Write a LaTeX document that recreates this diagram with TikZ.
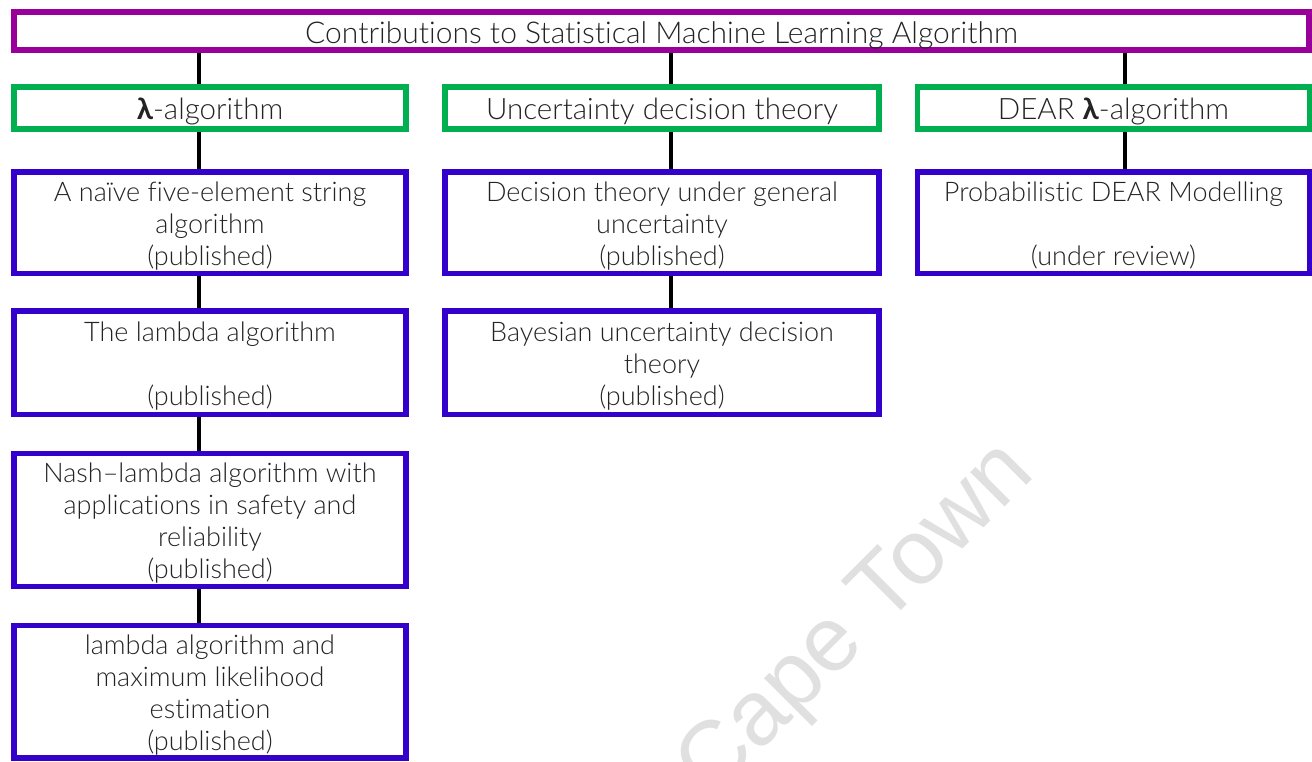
\documentclass[tikz,border=0pt]{standalone}
\usepackage{fontspec}
\setmainfont{Lato}[UprightFont={* Light},BoldFont={* Bold},Ligatures=NoCommon]
\newfontfamily\wmfont{Liberation Sans}
\definecolor{headc}{RGB}{153,0,153}
\definecolor{groupc}{RGB}{0,176,80}
\definecolor{paperc}{RGB}{51,0,204}
\definecolor{txt}{RGB}{35,35,35}
\begin{document}
\begin{tikzpicture}[x=1pt,y=-1pt,
  box/.style={draw, line width=5.5pt, inner sep=0pt},
  head/.style={box, draw=headc},
  group/.style={box, draw=groupc},
  paper/.style={box, draw=paperc},
  titletext/.style={inner sep=0pt, text=txt, align=center, font=\fontsize{30}{32}\selectfont},
  bigtext/.style={inner sep=0pt, text=txt, align=center, font=\fontsize{29.5}{32}\selectfont},
  smalltext/.style={inner sep=0pt, text=txt, align=center, font=\fontsize{27}{32}\selectfont},
  link/.style={line width=4.5pt, black}]
\useasboundingbox (0,0) rectangle (1312,761);

% watermark
\node[anchor=base east, rotate=45, text=black!12, font=\wmfont\fontsize{92}{92}\selectfont, inner sep=0pt] (wm) at (1037,475) {Cape Town};

% column positions of the connectors
\coordinate (cL) at (199,0);
\coordinate (cM) at (671,0);
\coordinate (cR) at (1125,0);

% title
\node[head, minimum width=1295pt, minimum height=38pt] (top) at (661.5,31) {};
\node[titletext] (topt) at ([yshift=-4.5pt]top.center) {Contributions to Statistical Machine Learning Algorithm};

% research lines
\node[group, minimum width=392pt, minimum height=42pt] (g1) at (210,108) {};
\node[group, minimum width=434pt, minimum height=42pt] (g2) at (662,108) {};
\node[group, minimum width=392pt, minimum height=42pt] (g3) at (1113.5,108) {};
\node[bigtext] (g1t) at ([yshift=-3.5pt]g1.center) {\textbf{λ}-algorithm};
\node[bigtext] (g2t) at ([yshift=-3.5pt]g2.center) {Uncertainty decision theory};
\node[bigtext] (g3t) at ([yshift=-3.5pt]g3.center) {DEAR \textbf{λ}-algorithm};

% papers
\node[paper, minimum width=392pt, minimum height=101.5pt] (p1) at (210,222.75) {};
\node[paper, minimum width=434pt, minimum height=101.5pt] (p2) at (662,222.75) {};
\node[paper, minimum width=392pt, minimum height=101.5pt] (p3) at (1113.5,222.75) {};
\node[paper, minimum width=392pt, minimum height=103.5pt] (p4) at (210,362.75) {};
\node[paper, minimum width=434pt, minimum height=103.5pt] (p5) at (662,362.75) {};
\node[paper, minimum width=392pt, minimum height=133pt] (p6) at (210,519.8) {};
\node[paper, minimum width=392pt, minimum height=132.5pt] (p7) at (210,691.75) {};

\node[smalltext] (p1t) at ([yshift=-3pt]p1.center) {A naïve five-element string\\algorithm\\(published)};
\node[smalltext] (p2t) at ([yshift=-3pt]p2.center) {Decision theory under general\\uncertainty\\(published)};
\node[smalltext] (p3t) at ([yshift=-3pt]p3.center) {Probabilistic DEAR Modelling\\\mbox{}\\(under review)};
\node[smalltext] (p4t) at ([yshift=-3.5pt]p4.center) {The lambda algorithm\\\mbox{}\\(published)};
\node[smalltext] (p5t) at ([yshift=-3.5pt]p5.center) {Bayesian uncertainty decision\\theory\\(published)};
\node[smalltext] (p6t) at ([yshift=-3pt]p6.center) {Nash–lambda algorithm with\\applications in safety and\\reliability\\(published)};
\node[smalltext] (p7t) at ([yshift=-3pt]p7.center) {lambda algorithm and\\maximum likelihood\\estimation\\(published)};

% connectors
\draw[link] (top.south -| cL) -- (g1.north -| cL);
\draw[link] (top.south -| cM) -- (g2.north -| cM);
\draw[link] (top.south -| cR) -- (g3.north -| cR);
\draw[link] (g1.south -| cL) -- (p1.north -| cL);
\draw[link] (g2.south -| cM) -- (p2.north -| cM);
\draw[link] (g3.south -| cR) -- (p3.north -| cR);
\draw[link] (p1.south -| cL) -- (p4.north -| cL);
\draw[link] (p2.south -| cM) -- (p5.north -| cM);
\draw[link] (p4.south -| cL) -- (p6.north -| cL);
\draw[link] (p6.south -| cL) -- (p7.north -| cL);
\end{tikzpicture}
\end{document}
